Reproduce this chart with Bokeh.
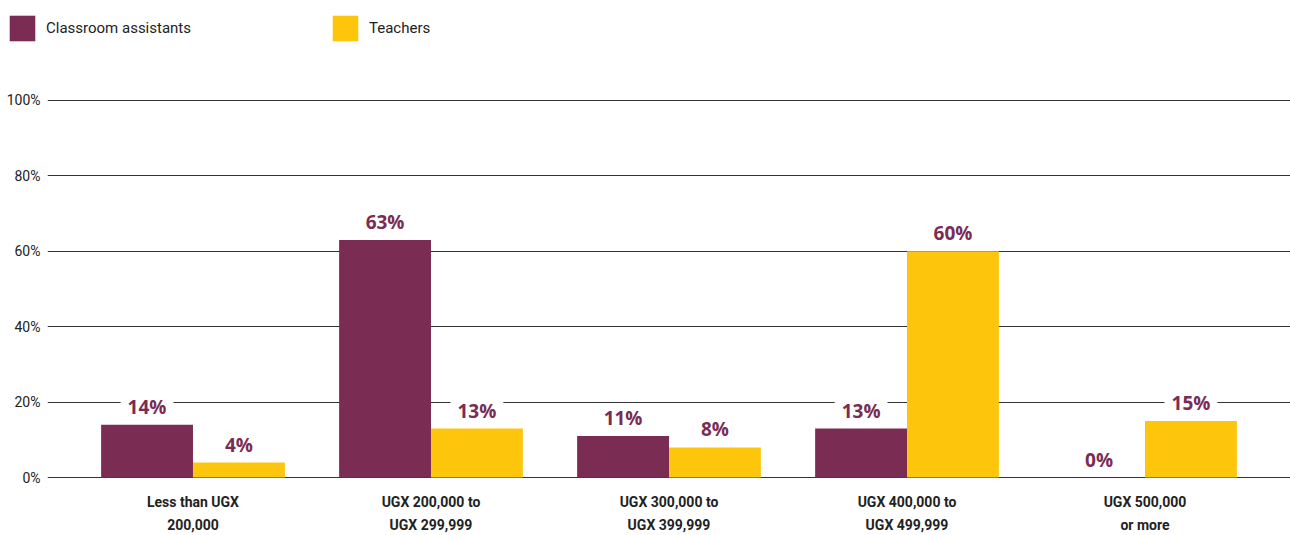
from bokeh.plotting import figure
from bokeh.layouts import column, row
from bokeh.models import (ColumnDataSource, FactorRange, Range1d, FixedTicker,
                          Legend, LegendItem)
from bokeh.transform import dodge
from bokeh.core.properties import value
from bokeh.embed import file_html
from bokeh.resources import INLINE

categories = ["Less than UGX\n200,000", "UGX 200,000 to\nUGX 299,999",
              "UGX 300,000 to\nUGX 399,999", "UGX 400,000 to\nUGX 499,999",
              "UGX 500,000\nor more"]
assistants = [14, 63, 11, 13, 0]
teachers = [4, 13, 8, 60, 15]
series_names = ["Classroom assistants", "Teachers"]
y_ticks = [0, 20, 40, 60, 80, 100]
y_tick_labels = {t: f"{t}%" for t in y_ticks}

MAROON = "#7a2c52"
YELLOW = "#fdc50c"
W = 1290
LG_H = 56

src = ColumnDataSource(dict(
    cat=categories,
    a=assistants,
    t=teachers,
    a_lbl=[f"{v}%" for v in assistants],
    t_lbl=[f"{v}%" for v in teachers],
))

# ---- legend strip ----
lg = figure(width=W, height=LG_H, output_backend="svg", toolbar_location=None,
            x_range=Range1d(0, 1), y_range=Range1d(0, 1),
            x_axis_type=None, y_axis_type=None,
            min_border=0, min_border_left=0, min_border_right=0,
            min_border_top=0, min_border_bottom=0)
lg.outline_line_color = None
lg.xgrid.grid_line_color = None
lg.ygrid.grid_line_color = None
hidden = ColumnDataSource(dict(x=[10], top=[10]))
la = lg.vbar(x="x", top="top", width=1, source=hidden, fill_color=MAROON,
             line_color=None)
lt = lg.vbar(x="x", top="top", width=1, source=hidden, fill_color=YELLOW,
             line_color=None)
legend = Legend(items=[LegendItem(label=series_names[0], renderers=[la]),
                       LegendItem(label=series_names[1], renderers=[lt])],
                orientation="horizontal", location=(6, LG_H - 44),
                glyph_width=32, glyph_height=32, label_standoff=8,
                label_width=283, spacing=0, padding=0, margin=0,
                border_line_color=None, background_fill_alpha=0,
                label_text_font="Roboto", label_text_font_size="15px",
                label_text_color="#222222")
lg.add_layout(legend, "center")

# ---- main chart ----
p = figure(width=W, height=535 - LG_H, output_backend="svg",
           toolbar_location=None,
           x_range=FactorRange(factors=categories, range_padding=0.0445),
           y_range=Range1d(-0.5, 100.5),
           min_border_left=47, min_border_right=0, min_border_top=98 - LG_H,
           min_border_bottom=54)
p.outline_line_color = None

bw = 0.386
r1 = p.vbar(x=dodge("cat", -bw / 2, range=p.x_range), top="a", width=bw,
            source=src, fill_color=MAROON, line_color=None)
r2 = p.vbar(x=dodge("cat", bw / 2, range=p.x_range), top="t", width=bw,
            source=src, fill_color=YELLOW, line_color=None)

for col, lbl, off in (("a", "a_lbl", -bw / 2), ("t", "t_lbl", bw / 2)):
    p.text(x=dodge("cat", off, range=p.x_range), y=col, text=lbl, source=src,
           text_align="center", text_baseline="bottom", y_offset=-5,
           text_font=value("Open Sans"), text_font_style="bold",
           text_font_size="19px", text_color=MAROON,
           background_fill_color="white",
           padding=dict(left=7, right=7, top=0, bottom=0))

# axes
p.yaxis.ticker = FixedTicker(ticks=y_ticks)
p.yaxis.major_label_overrides = y_tick_labels
p.yaxis.axis_line_color = None
p.yaxis.major_tick_out = 0
p.yaxis.major_tick_in = 0
p.yaxis.minor_tick_out = 0
p.yaxis.minor_tick_in = 0
p.yaxis.major_label_standoff = 7
p.yaxis.major_label_text_font = "Roboto"
p.yaxis.major_label_text_font_size = "14px"
p.yaxis.major_label_text_color = "#222222"

p.xaxis.axis_line_color = None
p.xaxis.major_tick_out = 0
p.xaxis.major_tick_in = 0
p.xaxis.minor_tick_out = 0
p.xaxis.minor_tick_in = 0
p.xaxis.major_label_standoff = 14
p.xaxis.major_label_text_font = "Roboto"
p.xaxis.major_label_text_font_style = "bold"
p.xaxis.major_label_text_font_size = "14px"
p.xaxis.major_label_text_color = "#222222"
p.xaxis.major_label_text_line_height = 1.45

p.xgrid.grid_line_color = None
p.ygrid.ticker = FixedTicker(ticks=y_ticks)
p.ygrid.grid_line_color = "#333333"
p.ygrid.grid_line_width = 1

layout = column(row(lg), p, spacing=0)
open("out.html", "w").write(file_html(layout, INLINE))
